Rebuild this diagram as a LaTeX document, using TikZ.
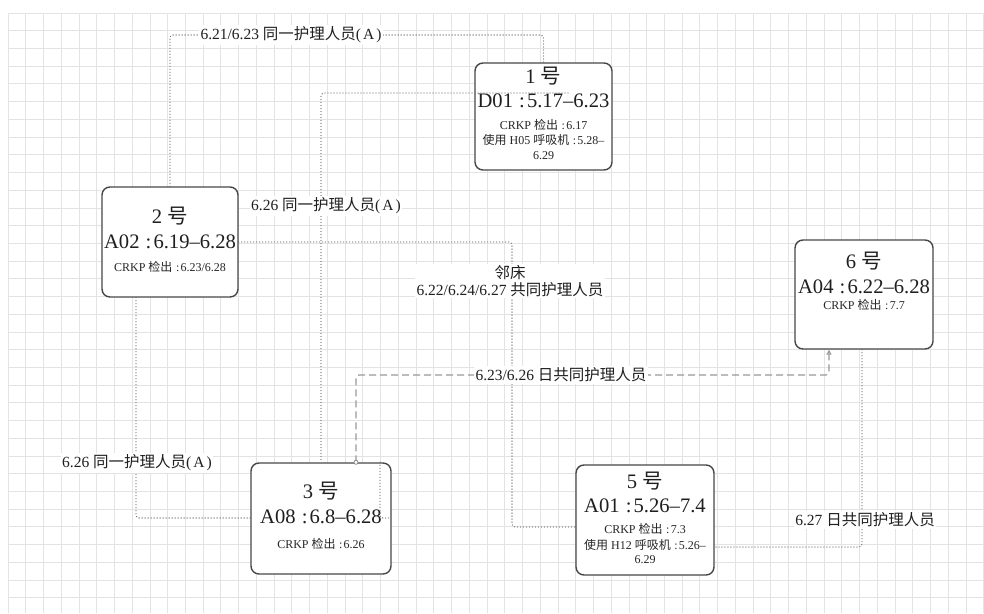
\documentclass[tikz,border=0pt]{standalone}
\usepackage{fontspec}
\setmainfont{Liberation Serif}
\newfontfamily\cjkf{Noto Sans CJK SC}
\newcommand{\C}[1]{{\cjkf #1}}
\newcommand{\paraA}{(\hspace{2pt}A\hspace{2pt})}
\newcommand{\cln}{\hspace{0.3em}:\hspace{0.1em}}
\usetikzlibrary{arrows.meta}
\tikzset{
  gridline/.style={draw=black!11, line width=0.8pt},
  box/.style={draw=black!72, line width=1.4pt, rounded corners=8pt, fill=white, inner sep=0pt},
  bigt/.style={font=\fontsize{20.6}{22}\selectfont, text=black!88, inner sep=0pt, text height=15pt, text depth=2pt},
  smallt/.style={font=\fontsize{12}{14}\selectfont, text=black!85, inner sep=0pt, text height=9pt, text depth=1.5pt},
  lab/.style={font=\fontsize{15.5}{17}\selectfont, text=black!88, fill=white, inner sep=1.5pt, align=center},
  dotline/.style={draw=black!58, line width=1.3pt, line cap=round, dash pattern=on 0pt off 3pt, rounded corners=3pt},
  dashline/.style={draw=black!40, line width=1.2pt, dash pattern=on 7pt off 4pt, rounded corners=3pt},
}
\begin{document}
\begin{tikzpicture}[x=1pt,y=-1pt]
\useasboundingbox (0,0) rectangle (984,613);
\fill[white] (0,0) rectangle (984,613);
% grid
\foreach \i in {0,...,55} {\draw[gridline] ({8+\i*17.74},13) -- ({8+\i*17.74},613);}
\foreach \j in {0,...,33} {\draw[gridline] (8,{13+\j*17.72}) -- (984,{13+\j*17.72});}

% boxes
\node[box, minimum width=137pt, minimum height=107pt] (b1) at (543.5,116.5) {};
\node[box, minimum width=136pt, minimum height=110pt] (b2) at (170,242) {};
\node[box, minimum width=138pt, minimum height=109pt] (b6) at (864,294.5) {};
\node[box, minimum width=140pt, minimum height=111pt] (b3) at (321,518.5) {};
\node[box, minimum width=138pt, minimum height=110pt] (b5) at (645,520) {};

% box texts
\node[bigt] (b1a) at (543.5,77) {1 \C{号}};
\node[bigt] (b1b) at (543.5,101) {D01\cln 5.17–6.23};
\node[smallt] (b1c) at (543.5,126) {CRKP \C{检出}\cln 6.17};
\node[smallt] (b1d) at (543.5,141) {\C{使用} H05 \C{呼吸机}\cln 5.28–};
\node[smallt] (b1e) at (543.5,156) {6.29};

\node[bigt] (b2a) at (170,217) {2 \C{号}};
\node[bigt] (b2b) at (170,242) {A02\cln 6.19–6.28};
\node[smallt] (b2c) at (170,268) {CRKP \C{检出}\cln 6.23/6.28};

\node[bigt] (b6a) at (864,262) {6 \C{号}};
\node[bigt] (b6b) at (864,287) {A04\cln 6.22–6.28};
\node[smallt] (b6c) at (864,306) {CRKP \C{检出}\cln 7.7};

\node[bigt] (b3a) at (321,492) {3 \C{号}};
\node[bigt] (b3b) at (321,517) {A08\cln 6.8–6.28};
\node[smallt] (b3c) at (321,545) {CRKP \C{检出}\cln 6.26};

\node[bigt] (b5a) at (645,482) {5 \C{号}};
\node[bigt] (b5b) at (645,506) {A01\cln 5.26–7.4};
\node[smallt] (b5c) at (645,530) {CRKP \C{检出}\cln 7.3};
\node[smallt] (b5d) at (645,546) {\C{使用} H12 \C{呼吸机}\cln 5.26–};
\node[smallt] (b5e) at (645,560) {6.29};

% coordinates
\coordinate (y35) at (0,35);
\coordinate (e2s) at (568,93);
\coordinate (e2a) at (321,93);
\coordinate (e3a) at (512,242);
\coordinate (e3b) at (512,527);
\coordinate (e4a) at (356,375);
\coordinate (e4b) at (829,375);
\coordinate (e5a) at (862,547);
\coordinate (e6a) at (136,518);
\coordinate (e7a) at (380,518);

% connectors
\draw[dotline] (b2.north) -- (b2.north |- y35) -- (b1.north |- y35) -- (b1.north);
\draw[dotline] (e2s) -- (e2a) -- (e2a |- b3.north);
\draw[dotline] (b2.east) -- (e3a) -- (e3b) -- (e3b -| b5.west);
\draw[dashline, -{Triangle[open, length=5pt, width=5pt]}] (e4a |- b3.north) -- (e4a) -- (e4b) -- (e4b |- b6.south);
\draw[black!45, line width=0.8pt, fill=white] (e4a |- b3.north) circle (2pt);
\draw[dotline] (e5a |- b6.south) -- (e5a) -- (e5a -| b5.east);
\draw[dotline] (e6a |- b2.south) -- (e6a) -- (e6a -| b3.west);
\draw[dotline] (e7a |- b3.north) -- (e7a) -- (e7a -| b3.east);

% labels
\node[lab] (l1) at (291,35) {6.21/6.23 \C{同一护理人员}\paraA};
\node[lab] (l2) at (326,206) {6.26 \C{同一护理人员}\paraA};
\node[lab] (l3) at (510,281) {\C{邻床}\\6.22/6.24/6.27 \C{共同护理人员}};
\node[lab] (l4) at (561,375) {6.23/6.26 \C{日共同护理人员}};
\node[lab] (l5) at (865,520) {6.27 \C{日共同护理人员}};
\node[lab] (l6) at (137,463) {6.26 \C{同一护理人员}\paraA};
\end{tikzpicture}
\end{document}
